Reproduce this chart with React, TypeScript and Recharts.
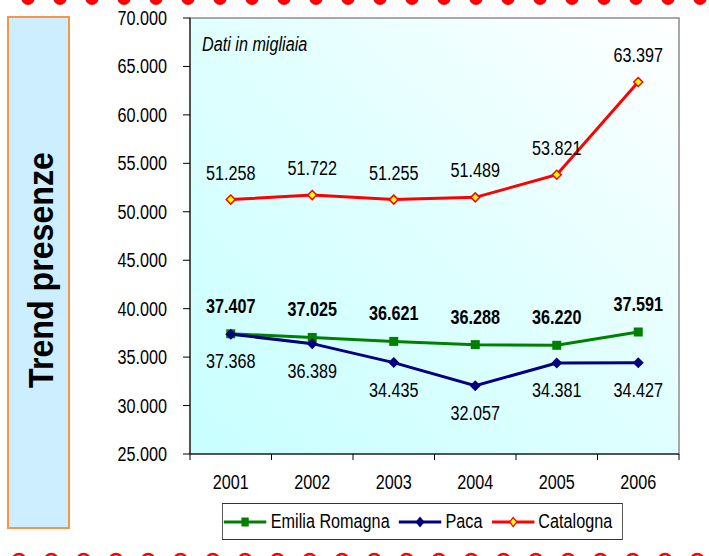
import React from 'react';
import { LineChart, Line, XAxis, YAxis, ReferenceArea, LabelList } from 'recharts';

const years = ['2001', '2002', '2003', '2004', '2005', '2006'];
const emiliaRomagna = [37407, 37025, 36621, 36288, 36220, 37591];
const paca = [37368, 36389, 34435, 32057, 34381, 34427];
const catalogna = [51258, 51722, 51255, 51489, 53821, 63397];
const yTicks = [25000, 30000, 35000, 40000, 45000, 50000, 55000, 60000, 65000, 70000];

const data = years.map((year, i) => ({
  year,
  emilia: emiliaRomagna[i],
  paca: paca[i],
  catalogna: catalogna[i],
}));

const FONT = '"Liberation Sans", Arial, sans-serif';
const SX = 0.81; // the original text is horizontally squeezed
const FS = 20;

const GREEN = '#008000';
const NAVY = '#000080';
const RED = '#ff0000';

const fmt = (v: number) => String(v).replace(/\B(?=(\d{3})+(?!\d))/g, '.');

const Squeezed = ({ x, y, anchor = 'middle', bold = false, italic = false, children }: any) => (
  <g transform={`translate(${x},${y}) scale(${SX},1)`}>
    <text
      x={0}
      y={0}
      textAnchor={anchor}
      fontFamily={FONT}
      fontSize={FS}
      fontWeight={bold ? 'bold' : 'normal'}
      fontStyle={italic ? 'italic' : 'normal'}
      fill="#000"
    >
      {children}
    </text>
  </g>
);

const squareDot = (props: any) => {
  const { cx, cy, index } = props;
  if (cx == null || cy == null) return null;
  return <rect key={`sq-${index}`} x={cx - 4.5} y={cy - 4.5} width={9} height={9} fill={GREEN} />;
};

const diamondPath = (cx: number, cy: number, r: number) =>
  `M${cx},${cy - r}L${cx + r},${cy}L${cx},${cy + r}L${cx - r},${cy}Z`;

const navyDot = (props: any) => {
  const { cx, cy, index } = props;
  if (cx == null || cy == null) return null;
  return <path key={`nd-${index}`} d={diamondPath(cx, cy, 5.5)} fill={NAVY} />;
};

const yellowDot = (props: any) => {
  const { cx, cy, index } = props;
  if (cx == null || cy == null) return null;
  return (
    <path key={`yd-${index}`} d={diamondPath(cx, cy, 4.5)} fill="#ffff00" stroke={RED} strokeWidth={1.5} />
  );
};

const makeLabel = (dy: number, bold: boolean) => (props: any) => {
  const { x, y, value, index } = props;
  if (x == null || y == null) return null;
  return (
    <Squeezed key={`lb-${index}`} x={x} y={y + dy} bold={bold}>
      {fmt(Number(value))}
    </Squeezed>
  );
};

const YTick = (props: any) => {
  const { x, y, payload } = props;
  return (
    <Squeezed x={x} y={y + 7} anchor="end">
      {fmt(payload.value)}
    </Squeezed>
  );
};

const XTick = (props: any) => {
  const { x, y, payload, index, visibleTicksCount } = props;
  const half = payload.offset || 40.75;
  const last = index === (visibleTicksCount ?? years.length) - 1;
  return (
    <g>
      <line x1={x - half} y1={y} x2={x - half} y2={y + 6} stroke="#000" />
      {last && <line x1={x + half} y1={y} x2={x + half} y2={y + 6} stroke="#000" />}
      <Squeezed x={x} y={y + 35}>
        {payload.value}
      </Squeezed>
    </g>
  );
};

const legendItems = [
  { name: 'Emilia Romagna', color: GREEN, marker: 'square' },
  { name: 'Paca', color: NAVY, marker: 'diamond' },
  { name: 'Catalogna', color: RED, marker: 'hollow' },
];

const LegendIcon = ({ color, marker }: any) => (
  <svg width={53} height={16} style={{ display: 'block' }}>
    <line x1={0} y1={8} x2={53} y2={8} stroke={color} strokeWidth={3} />
    {marker === 'square' && <rect x={22} y={3.5} width={9} height={9} fill={color} />}
    {marker === 'diamond' && <path d={diamondPath(26.5, 8, 5.5)} fill={color} />}
    {marker === 'hollow' && (
      <path d={diamondPath(26.5, 8, 4.5)} fill="#ffff00" stroke={color} strokeWidth={1.5} />
    )}
  </svg>
);

const topDots = Array.from({ length: 23 }, (_, i) => 28 + i * 32);
const bottomDots = Array.from({ length: 23 }, (_, i) => 19 + i * 32.3);

export default function App() {
  return (
    <div style={{ position: 'absolute', left: 0, top: 0, width: 709, height: 556, background: '#fff', overflow: 'hidden' }}>
      <LineChart width={709} height={556} data={data} margin={{ top: 18, right: 30, left: 0, bottom: 72 }}>
        <defs>
          <linearGradient id="plotBg" x1="0" y1="1" x2="1" y2="0">
            <stop offset="0%" stopColor="#c8ffff" />
            <stop offset="50%" stopColor="#e0ffff" />
            <stop offset="100%" stopColor="#ffffff" />
          </linearGradient>
        </defs>
        <XAxis
          dataKey="year"
          scale="band"
          height={30}
          axisLine={{ stroke: '#000' }}
          tickLine={false}
          tickSize={0}
          tickMargin={0}
          interval={0}
          tick={<XTick />}
        />
        <YAxis
          type="number"
          domain={[25000, 70000]}
          ticks={yTicks}
          width={190}
          interval={0}
          axisLine={{ stroke: '#000' }}
          tickLine={{ stroke: '#000' }}
          tickSize={7}
          tickMargin={16}
          tick={<YTick />}
        />
        <ReferenceArea y1={25000} y2={70000} fill="url(#plotBg)" fillOpacity={1} stroke="#8c8c8c" strokeWidth={1.5} />
        <Line
          dataKey="catalogna"
          stroke={RED}
          strokeWidth={3}
          dot={yellowDot}
          activeDot={false}
          isAnimationActive={false}
        >
          <LabelList dataKey="catalogna" content={makeLabel(-20, false)} />
        </Line>
        <Line
          dataKey="emilia"
          stroke={GREEN}
          strokeWidth={3}
          dot={squareDot}
          activeDot={false}
          isAnimationActive={false}
        >
          <LabelList dataKey="emilia" content={makeLabel(-21, true)} />
        </Line>
        <Line
          dataKey="paca"
          stroke={NAVY}
          strokeWidth={3}
          dot={navyDot}
          activeDot={false}
          isAnimationActive={false}
        >
          <LabelList dataKey="paca" content={makeLabel(34, false)} />
        </Line>
      </LineChart>

      <svg width={709} height={556} style={{ position: 'absolute', left: 0, top: 0, pointerEvents: 'none' }}>
        {topDots.map((cx) => (
          <circle key={`t${cx}`} cx={cx} cy={-1.5} r={6.5} fill={RED} />
        ))}
        {bottomDots.map((cx) => (
          <circle key={`b${cx}`} cx={cx} cy={560} r={6} fill="#fff" stroke={RED} strokeWidth={2.5} />
        ))}
        <rect x={8} y={17} width={61} height={511} fill="#cceeff" stroke="#f79646" strokeWidth={2} />
        <text
          transform="translate(53,270) rotate(-90)"
          textAnchor="middle"
          fontFamily={FONT}
          fontWeight="bold"
          fontSize={35}
          textLength={236}
          lengthAdjust="spacingAndGlyphs"
          fill="#000"
        >
          Trend presenze
        </text>
        <Squeezed x={202} y={51} anchor="start" italic>
          Dati in migliaia
        </Squeezed>
      </svg>

      <div
        style={{
          position: 'absolute',
          left: 222,
          top: 503,
          width: 495,
          height: 37,
          boxSizing: 'border-box',
          border: '1px solid #333',
          background: '#fff',
          transform: `scaleX(${SX})`,
          transformOrigin: 'left top',
          display: 'flex',
          alignItems: 'center',
          justifyContent: 'center',
          fontFamily: FONT,
          fontSize: FS,
          color: '#000',
        }}
      >
        {legendItems.map((item) => (
          <div key={item.name} style={{ display: 'flex', alignItems: 'center', marginRight: 11 }}>
            <LegendIcon color={item.color} marker={item.marker} />
            <span style={{ marginLeft: 5, whiteSpace: 'nowrap' }}>{item.name}</span>
          </div>
        ))}
      </div>
    </div>
  );
}
